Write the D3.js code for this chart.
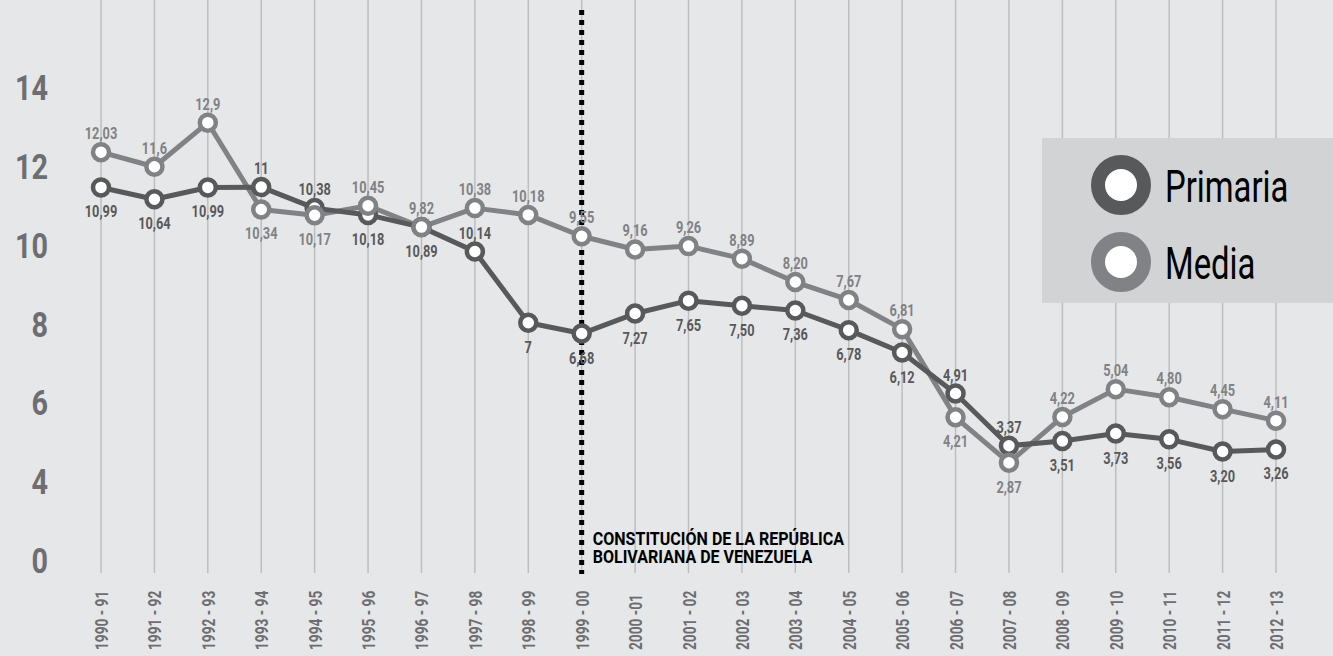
<!DOCTYPE html>
<html>
<head>
<meta charset="utf-8">
<script src="https://cdn.jsdelivr.net/npm/d3@7"></script>
<style>
  body { margin: 0; background: #e6e7e8; }
  svg text { font-family: Roboto, "Liberation Sans", sans-serif; }
</style>
</head>
<body>
<div id="chart"></div>
<script>
var svgWidth = 1333;
var svgHeight = 656;

// Data
var years = ["1990 - 91", "1991 - 92", "1992 - 93", "1993 - 94", "1994 - 95", "1995 - 96",
    "1996 - 97", "1997 - 98", "1998 - 99", "1999 - 00", "2000 -01", "2001 - 02", "2002 - 03",
    "2003 - 04", "2004 - 05", "2005 - 06", "2006 - 07", "2007 - 08", "2008 - 09", "2009 - 10",
    "2010 - 11", "2011 - 12", "2012 - 13"];

// plotted values (where the marks sit)
var primaria = [10.99, 10.64, 10.99, 11, 10.38, 10.18, 9.82, 9.1, 7, 6.68, 7.27, 7.65, 7.50,
    7.36, 6.78, 6.12, 4.91, 3.37, 3.51, 3.73, 3.56, 3.20, 3.26];
var media = [12.03, 11.6, 12.9, 10.34, 10.17, 10.45, 9.82, 10.38, 10.18, 9.55, 9.16, 9.26, 8.89,
    8.20, 7.67, 6.81, 4.21, 2.87, 4.22, 5.04, 4.80, 4.45, 4.11];

// printed labels
var primariaLabels = ["10,99", "10,64", "10,99", "11", "10,38", "10,18", "10,89", "10,14", "7",
    "6,68", "7,27", "7,65", "7,50", "7,36", "6,78", "6,12", "4,91", "3,37", "3,51", "3,73",
    "3,56", "3,20", "3,26"];
var mediaLabels = ["12,03", "11,6", "12,9", "10,34", "10,17", "10,45", "9,82", "10,38", "10,18",
    "9,55", "9,16", "9,26", "8,89", "8,20", "7,67", "6,81", "4,21", "2,87", "4,22", "5,04",
    "4,80", "4,45", "4,11"];

var yTickLabels = ["14", "12", "10", "8", "6", "4", "0"];
var seriesNames = ["Primaria", "Media"];
var markerYear = "1999 - 00";
var noteLines = ["CONSTITUCIÓN DE LA REPÚBLICA", "BOLIVARIANA DE VENEZUELA"];

// label placement: indices whose label goes above (primaria) / below (media)
var primariaAbove = [3, 4, 7, 16, 17];
var mediaBelow = [3, 4, 16, 17];

var colors = { Primaria: "#58595b", Media: "#808285" };

// no condensed font installed, so squeeze text horizontally
var squeeze = 0.8;
function place(x, y, s) {
    return `translate(${x}, ${y}) scale(${s || squeeze}, 1)`;
}

var svg = d3.select("#chart")
    .append("svg")
    .attr("width", svgWidth)
    .attr("height", svgHeight);

svg.append("rect")
    .attr("width", svgWidth)
    .attr("height", svgHeight)
    .attr("fill", "#e6e7e8");

var xScale = d3.scalePoint()
    .domain(years)
    .range([101, 1276]);

var yScale = d3.scaleLinear()
    .domain([0, 14])
    .range([560, 85.4]);

// the printed tick labels are evenly spaced
var yLabelScale = d3.scalePoint()
    .domain(yTickLabels)
    .range([87, 560]);

// vertical grid lines
svg.append("g").selectAll("line")
    .data(years)
    .enter()
    .append("line")
    .attr("x1", d => xScale(d))
    .attr("x2", d => xScale(d))
    .attr("y1", 0)
    .attr("y2", 573)
    .attr("stroke", "#bcbec0")
    .attr("stroke-width", 1.5);

// x labels
svg.append("g").selectAll("text")
    .data(years)
    .enter()
    .append("text")
    .attr("transform", d => `translate(${xScale(d) + 7}, 650) rotate(-90) scale(0.72, 1)`)
    .attr("fill", "#6d6e71")
    .style("font-size", "19px")
    .style("font-weight", "bold")
    .text(d => d);

// y labels
svg.append("g").selectAll("text")
    .data(yTickLabels)
    .enter()
    .append("text")
    .attr("transform", d => place(48, yLabelScale(d) + 13))
    .attr("text-anchor", "end")
    .attr("fill", "#6d6e71")
    .style("font-size", "36px")
    .style("font-weight", "bold")
    .text(d => d);

// constitution marker
svg.append("line")
    .attr("x1", xScale(markerYear))
    .attr("x2", xScale(markerYear))
    .attr("y1", 10)
    .attr("y2", 574)
    .attr("stroke", "#000")
    .attr("stroke-width", 5)
    .attr("stroke-dasharray", "5,5");

svg.append("g").selectAll("text")
    .data(noteLines)
    .enter()
    .append("text")
    .attr("transform", (d, i) => place(xScale(markerYear) + 11, 545 + i * 18, 0.845))
    .attr("fill", "#000")
    .style("font-size", "19px")
    .style("font-weight", "bold")
    .text(d => d);

var line = d3.line()
    .x((d, i) => xScale(years[i]))
    .y(d => yScale(d));

svg.append("path")
    .datum(media)
    .attr("d", line)
    .attr("fill", "none")
    .attr("stroke", colors.Media)
    .attr("stroke-width", 5)
    .attr("stroke-linejoin", "round");

svg.append("path")
    .datum(primaria)
    .attr("d", line)
    .attr("fill", "none")
    .attr("stroke", colors.Primaria)
    .attr("stroke-width", 5)
    .attr("stroke-linejoin", "round");

function drawMarkers(values, color) {
    svg.append("g").selectAll("circle")
        .data(values)
        .enter()
        .append("circle")
        .attr("cx", (d, i) => xScale(years[i]))
        .attr("cy", d => yScale(d))
        .attr("r", 8)
        .attr("fill", "#fff")
        .attr("stroke", color)
        .attr("stroke-width", 4.5);
}
drawMarkers(primaria, colors.Primaria);
drawMarkers(media, colors.Media);

function drawLabels(values, labels, color, isBelow) {
    svg.append("g").selectAll("text")
        .data(values)
        .enter()
        .append("text")
        .attr("transform", (d, i) => place(xScale(years[i]), yScale(d) + (isBelow(i) ? 30 : -13)))
        .attr("text-anchor", "middle")
        .attr("fill", color)
        .style("font-size", "16px")
        .style("font-weight", "bold")
        .text((d, i) => labels[i]);
}
drawLabels(primaria, primariaLabels, colors.Primaria, i => primariaAbove.indexOf(i) < 0);
drawLabels(media, mediaLabels, colors.Media, i => mediaBelow.indexOf(i) >= 0);

// legend
var legend = svg.append("g");
legend.append("rect")
    .attr("x", 1042)
    .attr("y", 138)
    .attr("width", 291)
    .attr("height", 165)
    .attr("fill", "#d1d3d4");

var legendY = d3.scalePoint()
    .domain(seriesNames)
    .range([185, 262]);

legend.selectAll("circle")
    .data(seriesNames)
    .enter()
    .append("circle")
    .attr("cx", 1121)
    .attr("cy", d => legendY(d))
    .attr("r", 23)
    .attr("fill", "#fff")
    .attr("stroke", d => colors[d])
    .attr("stroke-width", 14);

legend.selectAll("text")
    .data(seriesNames)
    .enter()
    .append("text")
    .attr("transform", d => place(1165, legendY(d) + 17, 0.73))
    .attr("fill", "#000")
    .style("font-size", "45px")
    .text(d => d);
</script>
</body>
</html>
